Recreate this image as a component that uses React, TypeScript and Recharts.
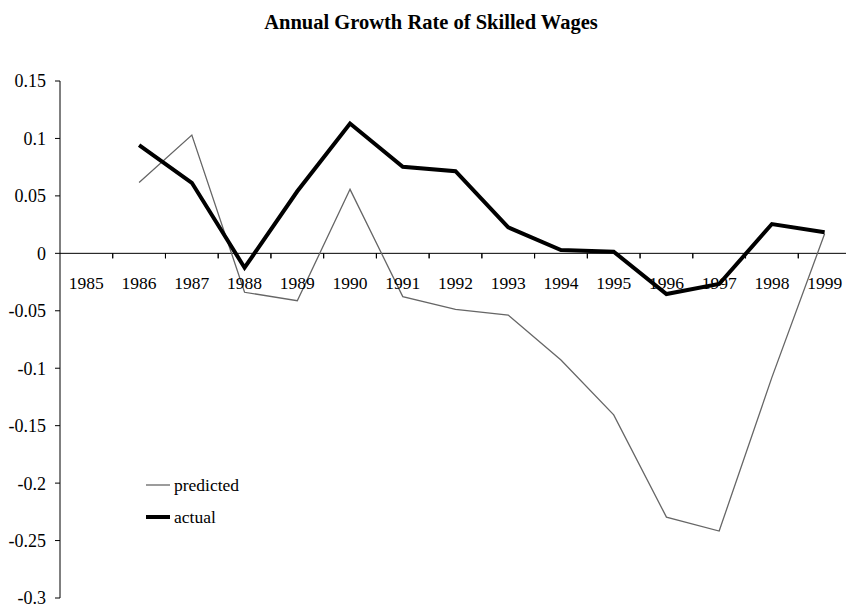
import React from 'react';
import { LineChart, Line, XAxis, YAxis, ReferenceLine, Legend } from 'recharts';

const years = ['1985', '1986', '1987', '1988', '1989', '1990', '1991', '1992', '1993', '1994', '1995', '1996', '1997', '1998', '1999'];
const predicted = [null, 0.0617, 0.1029, -0.0339, -0.0412, 0.0557, -0.0377, -0.0487, -0.0537, -0.0928, -0.1406, -0.2296, -0.2417, -0.108, 0.017];
const actual = [null, 0.0942, 0.0614, -0.0125, 0.054, 0.113, 0.0753, 0.0715, 0.0226, 0.0029, 0.0014, -0.0354, -0.0267, 0.0255, 0.0183];
const yTicks = [0.15, 0.1, 0.05, 0, -0.05, -0.1, -0.15, -0.2, -0.25, -0.3];
const seriesNames = ['predicted', 'actual'];
const title = 'Annual Growth Rate of Skilled Wages';

const data = years.map((year, i) => ({ year, predicted: predicted[i], actual: actual[i] }));

const W = 851;
const H = 610;
const X_AXIS_H = 12;
const M = { top: 81, right: 0, bottom: 0, left: 0 };
const Y_AXIS_W = 60;
const Y_MIN = -0.3;
const Y_MAX = 0.15;
const FONT = '"Liberation Serif", "Times New Roman", serif';

const plotH = H - M.top - M.bottom - X_AXIS_H;
const plotW = W - M.left - M.right - Y_AXIS_W;
const zeroY = M.top + plotH * (Y_MAX / (Y_MAX - Y_MIN));
const band = plotW / years.length;

const XTick = (props: any) => {
  const { x, payload, index } = props;
  return (
    <g>
      {index > 0 && (
        <line x1={x - band / 2} x2={x - band / 2} y1={zeroY} y2={zeroY + 5} stroke="#000" strokeWidth={1} />
      )}
      <line x1={x + band / 2} x2={x + band / 2} y1={zeroY} y2={zeroY + 5} stroke="#000" strokeWidth={1} />
      <text x={x} y={zeroY + 30} textAnchor="middle" dy="0.35em" fontSize={17.5} fontFamily={FONT} fill="#000">
        {payload.value}
      </text>
    </g>
  );
};

const LegendContent = (props: any) => {
  const payload = [...(props.payload || [])].sort(
    (a: any, b: any) => seriesNames.indexOf(a.value) - seriesNames.indexOf(b.value)
  );
  return (
    <div style={{ fontFamily: FONT, fontSize: 17.5, color: '#000' }}>
      {payload.map((entry: any) => (
        <div key={entry.value} style={{ display: 'flex', alignItems: 'center', height: 32 }}>
          <svg width={26} height={8} style={{ display: 'block' }}>
            <line x1={0} x2={24} y1={4} y2={4} stroke={entry.color} strokeWidth={entry.value === 'actual' ? 4 : 1.3} />
          </svg>
          <span style={{ marginLeft: 2 }}>{entry.value}</span>
        </div>
      ))}
    </div>
  );
};

export default function App() {
  return (
    <div style={{ position: 'absolute', left: 0, top: 0, width: 846, height: 610, overflow: 'hidden', background: '#fff' }}>
      <div
        style={{
          position: 'absolute',
          left: 0,
          top: 0,
          width: 862,
          height: 44,
          lineHeight: '44px',
          textAlign: 'center',
          fontFamily: FONT,
          fontWeight: 'bold',
          fontSize: 20.5,
          color: '#000',
        }}
      >
        {title}
      </div>
      <LineChart width={W} height={H} data={data} margin={M}>
        <XAxis
          dataKey="year"
          height={X_AXIS_H}
          axisLine={false}
          tickLine={false}
          interval={0}
          padding={{ left: band / 2, right: band / 2 }}
          tick={<XTick />}
        />
        <YAxis
          type="number"
          domain={[Y_MIN, Y_MAX]}
          ticks={yTicks}
          interval={0}
          width={Y_AXIS_W}
          allowDataOverflow
          tickFormatter={(v: number) => String(v)}
          tick={{ fill: '#000', fontSize: 18, fontFamily: FONT }}
          tickSize={5}
          tickMargin={9}
          axisLine={{ stroke: '#000' }}
          tickLine={{ stroke: '#000' }}
        />
        <ReferenceLine y={0} stroke="#000" strokeWidth={1} />
        <Line
          dataKey="predicted"
          name="predicted"
          stroke="#666"
          strokeWidth={1.3}
          dot={false}
          isAnimationActive={false}
        />
        <Line
          dataKey="actual"
          name="actual"
          stroke="#000"
          strokeWidth={4}
          dot={false}
          isAnimationActive={false}
        />
        <Legend
          layout="horizontal"
          verticalAlign="middle"
          align="center"
          content={<LegendContent />}
          wrapperStyle={{ position: 'absolute', left: 146, top: 469, width: 'auto', height: 'auto' }}
        />
      </LineChart>
    </div>
  );
}
